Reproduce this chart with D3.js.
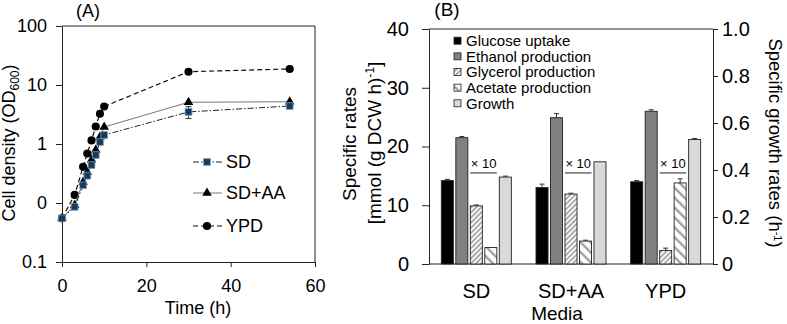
<!DOCTYPE html>
<html>
<head>
<meta charset="utf-8">
<script src="https://cdn.jsdelivr.net/npm/d3@7"></script>
<style>
  body { margin: 0; background: #fff; }
  text { font-family: "Liberation Sans", Arial, sans-serif; fill: #000; }
</style>
</head>
<body>
<script>
// ---- Panel A data: cell density (OD600) over time ----
const timeH  = [0, 3, 5, 6, 7, 8, 9, 10, 30, 54];
const odSD   = [0.055, 0.086, 0.20, 0.29, 0.44, 0.65, 1.08, 1.42, 3.5, 4.4];
const odSDAA = [0.055, 0.092, 0.227, 0.335, 0.54, 0.79, 1.31, 1.94, 5.1, 5.2];
const odYPD  = [0.055, 0.137, 0.41, 0.69, 1.15, 1.98, 3.26, 4.32, 16.8, 18.7];
const errSD  = [0, 0, 0, 0, 0, 0, 0, 0, 0.8, 0.3];
const yTickValsA = [0.01, 0.1, 1, 10, 100];
const yTickLabelsA = ["0.1", "0", "1", "10", "100"];
const xTickValsA = [0, 20, 40, 60];

// ---- Panel B data: specific rates per medium ----
const media = ["SD", "SD+AA", "YPD"];
const rateNames = ["Glucose uptake", "Ethanol production", "Glycerol production", "Acetate production", "Growth"];
const glucose     = [14.2, 13.0, 14.0];
const glucoseErr  = [0.2, 0.6, 0.2];
const ethanol     = [21.5, 24.9, 26.0];
const ethanolErr  = [0.2, 0.7, 0.25];
const glycerol    = [9.9, 11.9, 2.3];
const glycerolErr = [0.15, 0.15, 0.4];
const acetate     = [2.8, 3.9, 13.8];   // shown x10
const acetateErr  = [0, 0.15, 0.7];
const growth      = [0.37, 0.435, 0.53]; // right axis (h-1)
const growthErr   = [0.004, 0, 0.004];
const yTickValsL = [0, 10, 20, 30, 40];
const yTickValsR = [0, 0.2, 0.4, 0.6, 0.8, 1.0];

const width = 787, height = 324;
const svg = d3.select("body").append("svg")
    .attr("width", width)
    .attr("height", height)
    .style("background", "#fff");

const axisColor = "#222";
function styleAxis(g, fs) {
    g.selectAll("path, line").attr("stroke", axisColor);
    g.selectAll("text").attr("font-size", fs).attr("fill", "#000");
    g.attr("font-family", null);
}

// =================== Panel A ===================
const xA = d3.scaleLinear().domain([0, 60]).range([62, 315]);
const yA = d3.scaleLog().domain([0.01, 100]).range([262, 26]);

svg.append("g")
    .attr("transform", "translate(62,0)")
    .call(d3.axisLeft(yA).tickValues(yTickValsA)
        .tickFormat((d, i) => yTickLabelsA[i]).tickSize(6).tickSizeOuter(0).tickPadding(9))
    .call(g => styleAxis(g, 18));

svg.append("g")
    .attr("transform", "translate(0,262)")
    .call(d3.axisBottom(xA).tickValues(xTickValsA).tickSize(5).tickSizeOuter(0).tickPadding(12))
    .call(g => styleAxis(g, 18));

// frame (top and right)
svg.append("path")
    .attr("d", `M${xA(0)},${yA(100)}H${xA(60)}V${yA(0.01)}`)
    .attr("fill", "none").attr("stroke", axisColor);

const seriesA = [
    { name: "YPD", values: odYPD, err: null, dash: "5,3", stroke: "#111", width: 1.2, sym: d3.symbolCircle, size: 52, fill: "#000", mstroke: "none" },
    { name: "SD+AA", values: odSDAA, err: null, dash: null, stroke: "#777", width: 1, sym: d3.symbolTriangle, size: 40, fill: "#000", mstroke: "none" },
    { name: "SD", values: odSD, err: errSD, dash: "6,2,1.5,2", stroke: "#222", width: 1, sym: d3.symbolSquare, size: 46, fill: "#1d3a55", mstroke: "#6f9fcf" }
];

const line = d3.line()
    .x((d, i) => xA(timeH[i]))
    .y(d => yA(d));

seriesA.forEach(s => {
    svg.append("path")
        .datum(s.values)
        .attr("fill", "none")
        .attr("stroke", s.stroke)
        .attr("stroke-width", s.width)
        .attr("stroke-dasharray", s.dash)
        .attr("d", line);

    if (s.err) {
        s.values.forEach((v, i) => {
            if (!s.err[i]) return;
            const x = xA(timeH[i]);
            const y0 = yA(v - s.err[i]), y1 = yA(v + s.err[i]);
            svg.append("path")
                .attr("d", `M${x},${y0}V${y1}M${x - 3},${y0}H${x + 3}M${x - 3},${y1}H${x + 3}`)
                .attr("stroke", "#333").attr("fill", "none");
        });
    }

    svg.append("g").selectAll("path")
        .data(s.values)
        .join("path")
        .attr("transform", (d, i) => `translate(${xA(timeH[i])},${yA(d)})`)
        .attr("d", d3.symbol(s.sym, s.size))
        .attr("fill", s.fill)
        .attr("stroke", s.mstroke)
        .attr("stroke-width", 0.8);
});

// legend A
const legA = [seriesA[2], seriesA[1], seriesA[0]];
const legAy = [162, 193, 226];
legA.forEach((s, i) => {
    const y = legAy[i];
    svg.append("line")
        .attr("x1", 193).attr("x2", 222).attr("y1", y).attr("y2", y)
        .attr("stroke", s.stroke).attr("stroke-width", s.width)
        .attr("stroke-dasharray", s.dash);
    svg.append("path")
        .attr("transform", `translate(207,${y})`)
        .attr("d", d3.symbol(s.sym, s.size))
        .attr("fill", s.fill).attr("stroke", s.mstroke).attr("stroke-width", 0.8);
    svg.append("text")
        .attr("x", 226).attr("y", y)
        .attr("dy", "0.35em")
        .attr("font-size", 18)
        .text(s.name);
});

svg.append("text")
    .attr("x", 198).attr("y", 314)
    .attr("text-anchor", "middle")
    .attr("font-size", 18)
    .text("Time (h)");

const yLabA = svg.append("text")
    .attr("transform", "translate(15,143) rotate(-90)")
    .attr("text-anchor", "middle")
    .attr("font-size", 18);
yLabA.append("tspan").text("Cell density (OD");
yLabA.append("tspan").attr("font-size", 12).attr("dy", 4).text("600");
yLabA.append("tspan").attr("dy", -4).text(")");

svg.append("text")
    .attr("x", 88).attr("y", 11).attr("dy", "0.35em")
    .attr("text-anchor", "middle")
    .attr("font-size", 18)
    .text("(A)");

// =================== Panel B ===================
const xB = d3.scaleBand().domain(media).range([429, 713]);
const xInner = d3.scaleBand().domain(rateNames).range([-35, 35]).paddingInner(0.17);
const yL = d3.scaleLinear().domain([0, 40]).range([264, 29]);
const yR = d3.scaleLinear().domain([0, 1]).range([264, 29]);

const defs = svg.append("defs");
const pGly = defs.append("pattern")
    .attr("id", "hatchGly").attr("patternUnits", "userSpaceOnUse")
    .attr("width", 3.6).attr("height", 3.6)
    .attr("patternTransform", "rotate(45)");
pGly.append("rect").attr("width", 3.6).attr("height", 3.6).attr("fill", "#fff");
pGly.append("rect").attr("width", 1.9).attr("height", 3.6).attr("fill", "#a8a8a8");

const pAce = defs.append("pattern")
    .attr("id", "hatchAce").attr("patternUnits", "userSpaceOnUse")
    .attr("width", 7).attr("height", 7)
    .attr("patternTransform", "rotate(-45)");
pAce.append("rect").attr("width", 7).attr("height", 7).attr("fill", "#fff");
pAce.append("rect").attr("width", 2.4).attr("height", 7).attr("fill", "#a0a0a0");

const seriesB = [
    { name: rateNames[0], values: glucose, err: glucoseErr, fill: "#000", scale: yL },
    { name: rateNames[1], values: ethanol, err: ethanolErr, fill: "#808080", scale: yL },
    { name: rateNames[2], values: glycerol, err: glycerolErr, fill: "url(#hatchGly)", scale: yL },
    { name: rateNames[3], values: acetate, err: acetateErr, fill: "url(#hatchAce)", scale: yL },
    { name: rateNames[4], values: growth, err: growthErr, fill: "#d9d9d9", scale: yR }
];

svg.append("g")
    .attr("transform", "translate(429,0)")
    .call(d3.axisLeft(yL).tickValues(yTickValsL).tickSize(7).tickSizeOuter(0).tickPadding(13))
    .call(g => styleAxis(g, 20));

svg.append("g")
    .attr("transform", "translate(713,0)")
    .call(d3.axisRight(yR).tickValues(yTickValsR)
        .tickFormat(d => d === 0 ? "0" : d3.format(".1f")(d))
        .tickSize(5).tickSizeOuter(0).tickPadding(4))
    .call(g => styleAxis(g, 20));

svg.append("line")
    .attr("x1", 429).attr("x2", 713).attr("y1", 264).attr("y2", 264)
    .attr("stroke", axisColor);
svg.append("line")
    .attr("x1", 429).attr("x2", 713).attr("y1", 29).attr("y2", 29)
    .attr("stroke", axisColor);

seriesB.forEach(s => {
    const g = svg.append("g");
    s.values.forEach((v, i) => {
        const x = xB(media[i]) + xB.bandwidth() / 2 + xInner(s.name);
        const y = s.scale(v);
        g.append("rect")
            .attr("x", x).attr("y", y)
            .attr("width", xInner.bandwidth())
            .attr("height", s.scale(0) - y)
            .attr("fill", s.fill)
            .attr("stroke", "#222")
            .attr("stroke-width", 0.9);
        if (s.err[i] > 0) {
            const cx = x + xInner.bandwidth() / 2;
            const ye = s.scale(v + s.err[i]);
            g.append("path")
                .attr("d", `M${cx},${y}V${ye}M${cx - 2.5},${ye}H${cx + 2.5}`)
                .attr("stroke", "#333").attr("fill", "none");
        }
    });
});

// x10 marks over glycerol / acetate
media.forEach(m => {
    const c = xB(m) + xB.bandwidth() / 2;
    const x0 = c + xInner(rateNames[2]);
    const x1 = c + xInner(rateNames[3]) + xInner.bandwidth();
    const y = yL(15.5);
    svg.append("line")
        .attr("x1", x0).attr("x2", x1).attr("y1", y).attr("y2", y)
        .attr("stroke", "#222");
    svg.append("text")
        .attr("x", (x0 + x1) / 2).attr("y", y - 4.5)
        .attr("text-anchor", "middle")
        .attr("font-size", 13)
        .text("× 10");
});

// category labels
svg.append("g").selectAll("text")
    .data(media)
    .join("text")
    .attr("x", d => xB(d) + xB.bandwidth() / 2)
    .attr("y", 291)
    .attr("dy", "0.35em")
    .attr("text-anchor", "middle")
    .attr("font-size", 20)
    .text(d => d);

svg.append("text")
    .attr("x", 557).attr("y", 313).attr("dy", "0.35em")
    .attr("text-anchor", "middle")
    .attr("font-size", 19)
    .text("Media");

// legend B
seriesB.forEach((s, i) => {
    const y = 40.7 + i * 15.65;
    svg.append("rect")
        .attr("x", 454).attr("y", y - 3.5)
        .attr("width", 7).attr("height", 7)
        .attr("fill", s.fill).attr("stroke", "#222").attr("stroke-width", 0.8);
    svg.append("text")
        .attr("x", 466).attr("y", y).attr("dy", "0.35em")
        .attr("font-size", 15)
        .text(s.name);
});

// axis titles B
svg.append("text")
    .attr("transform", "translate(355.5,144) rotate(-90)")
    .attr("text-anchor", "middle")
    .attr("font-size", 19)
    .text("Specific rates");

const yLabB2 = svg.append("text")
    .attr("transform", "translate(381,143) rotate(-90)")
    .attr("text-anchor", "middle")
    .attr("font-size", 19);
yLabB2.append("tspan").text("[mmol (g DCW h)");
yLabB2.append("tspan").attr("font-size", 12).attr("dy", -7).text("-1");
yLabB2.append("tspan").attr("dy", 7).text("]");

const yLabR = svg.append("text")
    .attr("transform", "translate(769,143) rotate(90)")
    .attr("text-anchor", "middle")
    .attr("font-size", 18.5);
yLabR.append("tspan").text("Specific growth rates (h");
yLabR.append("tspan").attr("font-size", 11).attr("dy", -5).text("-1");
yLabR.append("tspan").attr("dy", 5).text(")");

svg.append("text")
    .attr("x", 447).attr("y", 9).attr("dy", "0.35em")
    .attr("text-anchor", "middle")
    .attr("font-size", 19)
    .text("(B)");
</script>
</body>
</html>
